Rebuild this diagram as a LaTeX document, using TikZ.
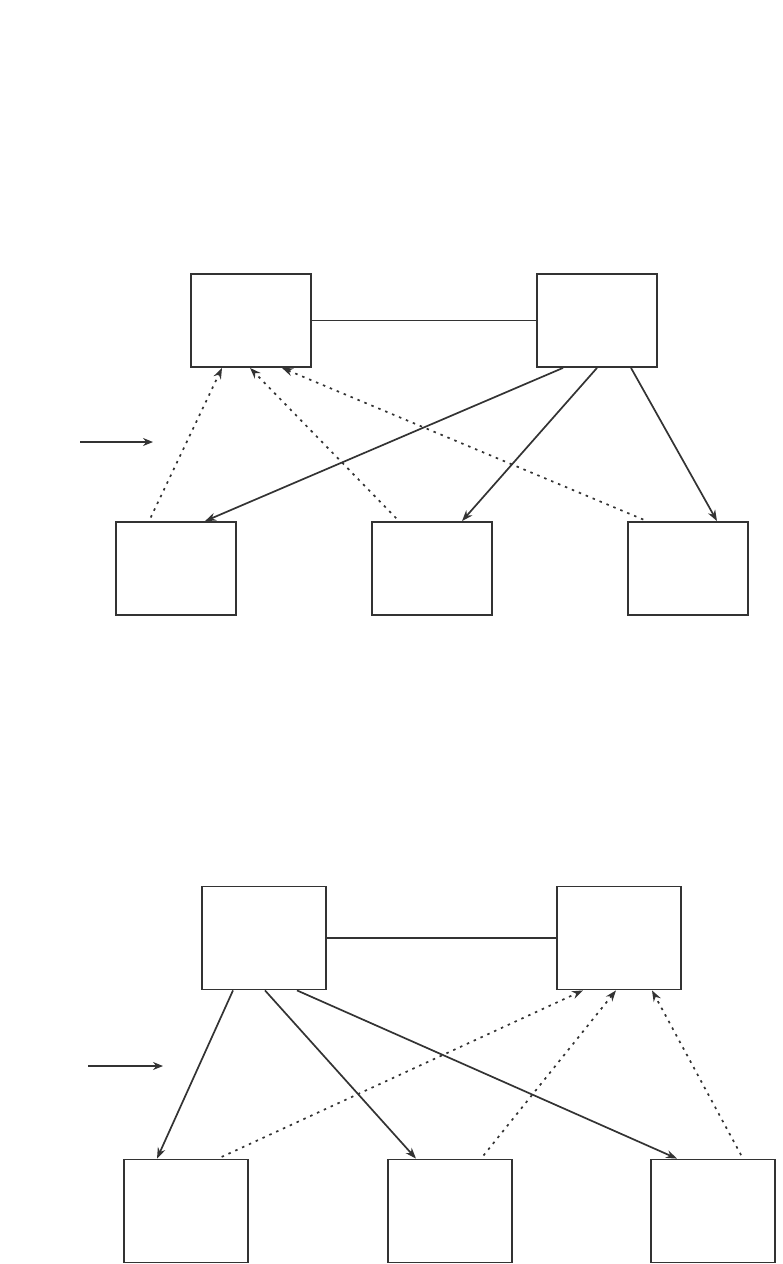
\documentclass[tikz,border=0pt]{standalone}
\usetikzlibrary{arrows.meta}
\definecolor{linegray}{HTML}{333333}
\tikzset{
  box/.style={draw=linegray, line width=1.8pt, fill=white, inner sep=0pt,
    minimum width=120pt, minimum height=93pt},
  bigbox/.style={box, minimum width=124pt, minimum height=103pt},
  link/.style={draw=linegray, line width=1.7pt},
  solidarrow/.style={link, -{Stealth[length=11pt, width=8pt]}},
  dotarrow/.style={link, dash pattern=on 2.5pt off 5pt, shorten <=4pt,
    -{Stealth[length=11pt, width=8pt]}},
  hintarrow/.style={draw=linegray, line width=1.2pt, -{Stealth[length=10pt, width=8pt]}}
}
\begin{document}
\begin{tikzpicture}[x=1pt, y=-1pt]
  \useasboundingbox (0,0) rectangle (783,1264);

  % upper picture
  \node[box] (mA) at (251,320.5) {};
  \node[box] (mB) at (597,320.5) {};
  \node[box] (wA) at (176,568.5) {};
  \node[box] (wB) at (432,568.5) {};
  \node[box] (wC) at (688,568.5) {};
  \draw[link] (mA) -- (mB);
  \draw[solidarrow] ([xshift=-34pt]mB.south) -- ([xshift=29pt]wA.north);
  \draw[solidarrow] (mB.south) -- ([xshift=30pt]wB.north);
  \draw[solidarrow] ([xshift=34pt]mB.south) -- ([xshift=29pt]wC.north);
  \draw[dotarrow] ([xshift=-27pt]wA.north) -- ([xshift=-29pt]mA.south);
  \draw[dotarrow] ([xshift=-33pt]wB.north) -- ([xshift=-1pt]mA.south);
  \draw[dotarrow] ([xshift=-41pt]wC.north) -- ([xshift=31pt]mA.south);
  \coordinate (hintA) at (80,442);
  \coordinate (hintAe) at (153,442);
  \draw[hintarrow] (hintA) -- (hintAe);

  % lower picture
  \node[bigbox] (nA) at (264,938) {};
  \node[bigbox] (nB) at (619,938) {};
  \node[bigbox] (vA) at (186,1211) {};
  \node[bigbox] (vB) at (450,1211) {};
  \node[bigbox] (vC) at (713,1211) {};
  \draw[link] (nA) -- (nB);
  \draw[solidarrow] ([xshift=-31pt]nA.south) -- ([xshift=-29pt]vA.north);
  \draw[solidarrow] ([xshift=1pt]nA.south) -- ([xshift=-34pt]vB.north);
  \draw[solidarrow] ([xshift=33pt]nA.south) -- ([xshift=-36pt]vC.north);
  \draw[dotarrow] ([xshift=32pt]vA.north) -- ([xshift=-36pt]nB.south);
  \draw[dotarrow] ([xshift=31pt]vB.north) -- ([xshift=-3pt]nB.south);
  \draw[dotarrow] ([xshift=30pt]vC.north) -- ([xshift=33pt]nB.south);
  \coordinate (hintB) at (88,1066);
  \coordinate (hintBe) at (163,1066);
  \draw[hintarrow] (hintB) -- (hintBe);
\end{tikzpicture}
\end{document}
